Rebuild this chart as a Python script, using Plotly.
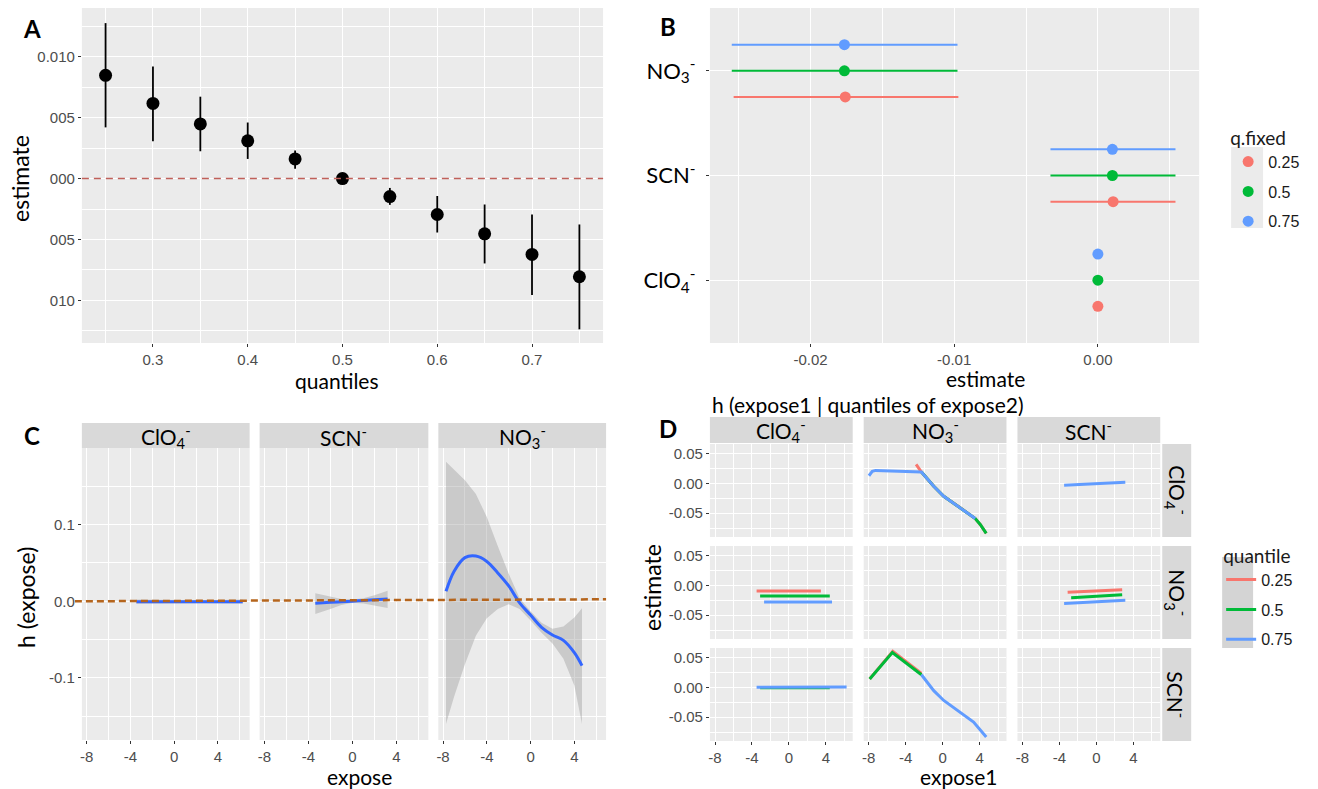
import plotly.graph_objects as go

W, H = 1318, 789
FONT = "Lato"
TFONT = "Liberation Sans"
RED, GREEN, BLUE = "#F8766D", "#00BA38", "#619CFF"
FIT_BLUE = "#3366FF"
BAND = "rgba(153,153,153,0.4)"
STRIP_BG = "#D9D9D9"

# ---------------- Panel A data ----------------
a_quantiles = [0.25, 0.30, 0.35, 0.40, 0.45, 0.50, 0.55, 0.60, 0.65, 0.70, 0.75]
a_estimate = [0.00847, 0.00617, 0.00448, 0.00310, 0.00161, 0.0, -0.00148, -0.00295, -0.00454, -0.00623, -0.00806]
a_lower = [0.00420, 0.00306, 0.00224, 0.00161, 0.00080, -0.0002, -0.00216, -0.00443, -0.00697, -0.00956, -0.01238]
a_upper = [0.01276, 0.00920, 0.00672, 0.00460, 0.00230, 0.0002, -0.00077, -0.00143, -0.00213, -0.00295, -0.00377]
a_ytickvals = [0.010, 0.005, 0.0, -0.005, -0.010]
a_yticktext = ["0.010", "005", "000", "005", "010"]

# ---------------- Panel B data ----------------
b_variables = ["ClO<sub>4</sub><sup>-</sup>", "SCN<sup>-</sup>", "NO<sub>3</sub><sup>-</sup>"]
b_qfixed = ["0.25", "0.5", "0.75"]
b_est_025 = [0.0, 0.00106, -0.01758]
b_lo_025 = [-0.0001, -0.00330, -0.02535]
b_hi_025 = [0.0001, 0.00540, -0.00971]
b_est_050 = [0.0, 0.00101, -0.01764]
b_lo_050 = [-0.0001, -0.00330, -0.02548]
b_hi_050 = [0.0001, 0.00540, -0.00977]
b_est_075 = [0.0, 0.00101, -0.01764]
b_lo_075 = [-0.0001, -0.00330, -0.02548]
b_hi_075 = [0.0001, 0.00540, -0.00977]

# ---------------- Panel C data ----------------
c_panels = ["ClO<sub>4</sub><sup>-</sup>", "SCN<sup>-</sup>", "NO<sub>3</sub><sup>-</sup>"]
c_clo4_x = [-3.45, 0.0, 3.0, 6.27]
c_clo4_fit = [-0.0005, -0.0005, -0.0005, -0.0005]
c_clo4_lo = [-0.0032, -0.0025, -0.0025, -0.0032]
c_clo4_hi = [0.0022, 0.0015, 0.0015, 0.0022]
c_scn_x = [-3.37, -2.0, -1.0, 0.0, 1.0, 2.0, 3.2]
c_scn_fit = [-0.0026, -0.0014, -0.0006, 0.0002, 0.0011, 0.0019, 0.0030]
c_scn_lo = [-0.0165, -0.0100, -0.0050, -0.0020, -0.0030, -0.0060, -0.0087]
c_scn_hi = [0.0104, 0.0060, 0.0030, 0.0022, 0.0040, 0.0080, 0.0137]
c_no3_x = [-7.73, -7.0, -6.0, -5.0, -4.0, -3.0, -2.0, -1.0, 0.0, 1.0, 2.0, 3.0, 4.0, 4.7]
c_no3_fit = [0.013, 0.039, 0.057, 0.059, 0.052, 0.037, 0.020, -0.002, -0.018, -0.034, -0.044, -0.051, -0.067, -0.084]
c_no3_lo = [-0.160, -0.125, -0.082, -0.045, -0.022, -0.010, -0.004, -0.010, -0.025, -0.041, -0.055, -0.075, -0.110, -0.160]
c_no3_hi = [0.182, 0.172, 0.158, 0.140, 0.110, 0.072, 0.036, 0.004, -0.013, -0.028, -0.036, -0.033, -0.021, -0.009]

# ---------------- Panel D data ----------------
d_labels = ["ClO<sub>4</sub><sup>-</sup>", "NO<sub>3</sub><sup>-</sup>", "SCN<sup>-</sup>"]
d_quantiles = ["0.25", "0.5", "0.75"]
# row ClO4, column NO3
d_r1c2_red_x = [-2.88, -2.3, -0.97, 0.11, 1.9, 3.52, 4.06, 4.71]
d_r1c2_red_y = [0.0317, 0.0189, -0.005, -0.0217, -0.041, -0.059, -0.069, -0.084]
d_r1c2_green_x = [-2.3, -0.97, 0.11, 1.9, 3.52, 4.06, 4.71]
d_r1c2_green_y = [0.0189, -0.005, -0.0217, -0.041, -0.059, -0.069, -0.084]
d_r1c2_blue_x = [-7.98, -7.62, -7.26, -4.57, -2.3, -2.05, -0.97, 0.11, 1.9, 3.52]
d_r1c2_blue_y = [0.0128, 0.0200, 0.0217, 0.0200, 0.0189, 0.0144, -0.005, -0.0217, -0.041, -0.059]
# row ClO4, column SCN
d_r1c3_blue_x = [-3.5, 3.12]
d_r1c3_blue_y = [-0.0033, 0.0017]
# row NO3, column ClO4
d_r2c1_red_x = [-3.5, 3.46]
d_r2c1_red_y = [-0.0094, -0.0094]
d_r2c1_green_x = [-3.12, 4.42]
d_r2c1_green_y = [-0.0178, -0.0178]
d_r2c1_blue_x = [-2.69, 4.66]
d_r2c1_blue_y = [-0.0278, -0.0278]
# row NO3, column SCN
d_r2c3_red_x = [-3.12, 2.78]
d_r2c3_red_y = [-0.0117, -0.0072]
d_r2c3_green_x = [-2.74, 2.78]
d_r2c3_green_y = [-0.0206, -0.0156]
d_r2c3_blue_x = [-3.5, 3.12]
d_r2c3_blue_y = [-0.0306, -0.0250]
# row SCN, column ClO4
d_r3c1_green_x = [-3.12, 4.42]
d_r3c1_green_y = [-0.0005, -0.0005]
d_r3c1_blue_x = [-3.5, 6.24]
d_r3c1_blue_y = [0.0000, 0.0006]
# row SCN, column NO3
d_r3c2_red_x = [-7.9, -5.4, -2.3]
d_r3c2_red_y = [0.0139, 0.0605, 0.0235]
d_r3c2_green_x = [-7.9, -5.45, -2.3]
d_r3c2_green_y = [0.0139, 0.0583, 0.0211]
d_r3c2_blue_x = [-2.3, -0.97, 0.11, 1.9, 3.34, 4.71]
d_r3c2_blue_y = [0.0211, -0.0056, -0.022, -0.0417, -0.0583, -0.0833]


def px_x(a, b):
    return [a / W, b / W]


def px_y(top, bottom):
    return [1 - bottom / H, 1 - top / H]


TICKFONT = dict(family=TFONT, size=15, color="#4D4D4D")


def axis(domain, rng, tickvals, ticktext=None, minorvals=None, labels=True, font=None, anchor=None):
    d = dict(domain=domain, range=rng, tickmode="array", tickvals=tickvals,
             showgrid=True, gridcolor="white", gridwidth=1.3, zeroline=False, showline=False,
             ticks="outside" if labels else "", ticklen=3, tickwidth=1, tickcolor="#333333",
             showticklabels=labels, tickfont=font or TICKFONT, anchor=anchor, fixedrange=True)
    if ticktext is not None:
        d["ticktext"] = ticktext
    if minorvals:
        d["minor"] = dict(tickmode="array", tickvals=minorvals, showgrid=True,
                          gridcolor="white", gridwidth=0.6, ticks="")
    return d


fig = go.Figure()

# ---------------- Panel A ----------------
fig.add_trace(go.Scatter(
    x=a_quantiles, y=a_estimate, mode="markers", xaxis="x", yaxis="y", showlegend=False,
    marker=dict(color="black", size=13),
    error_y=dict(type="data", symmetric=False,
                 array=[u - e for u, e in zip(a_upper, a_estimate)],
                 arrayminus=[e - l for e, l in zip(a_estimate, a_lower)],
                 width=0, thickness=1.8, color="black")))

# ---------------- Panel B ----------------
dodge = {"0.25": -0.25, "0.5": 0.0, "0.75": 0.25}
b_sets = [("0.25", RED, b_est_025, b_lo_025, b_hi_025),
          ("0.5", GREEN, b_est_050, b_lo_050, b_hi_050),
          ("0.75", BLUE, b_est_075, b_lo_075, b_hi_075)]
for q, col, est, lo, hi in b_sets:
    fig.add_trace(go.Scatter(
        x=est, y=[i + 1 + dodge[q] for i in range(len(b_variables))],
        mode="markers", xaxis="x2", yaxis="y2", name=q, legend="legend", legendgroup="b" + q,
        marker=dict(color=col, size=11),
        error_x=dict(type="data", symmetric=False,
                     array=[h - e for h, e in zip(hi, est)],
                     arrayminus=[e - l for e, l in zip(est, lo)],
                     width=0, thickness=2, color=col)))

# ---------------- Panel C ----------------
c_sets = [(c_clo4_x, c_clo4_fit, c_clo4_lo, c_clo4_hi, "x3", "y3"),
          (c_scn_x, c_scn_fit, c_scn_lo, c_scn_hi, "x4", "y4"),
          (c_no3_x, c_no3_fit, c_no3_lo, c_no3_hi, "x5", "y5")]
for xs, fit, lo, hi, xa, ya in c_sets:
    fig.add_trace(go.Scatter(x=list(xs) + list(xs)[::-1], y=list(hi) + list(lo)[::-1],
                             fill="toself", fillcolor=BAND, line=dict(width=0), mode="lines",
                             xaxis=xa, yaxis=ya, showlegend=False, hoverinfo="skip"))
    fig.add_trace(go.Scatter(x=xs, y=fit, mode="lines", line=dict(color=FIT_BLUE, width=3, shape="spline"),
                             xaxis=xa, yaxis=ya, showlegend=False))


# ---------------- Panel D ----------------
def dax(r, c):
    n = 6 + (r - 1) * 3 + (c - 1)
    return "x%d" % n, "y%d" % n


d_lines = [
    (1, 2, "0.25", d_r1c2_red_x, d_r1c2_red_y),
    (1, 2, "0.5", d_r1c2_green_x, d_r1c2_green_y),
    (1, 2, "0.75", d_r1c2_blue_x, d_r1c2_blue_y),
    (1, 3, "0.75", d_r1c3_blue_x, d_r1c3_blue_y),
    (2, 1, "0.25", d_r2c1_red_x, d_r2c1_red_y),
    (2, 1, "0.5", d_r2c1_green_x, d_r2c1_green_y),
    (2, 1, "0.75", d_r2c1_blue_x, d_r2c1_blue_y),
    (2, 3, "0.25", d_r2c3_red_x, d_r2c3_red_y),
    (2, 3, "0.5", d_r2c3_green_x, d_r2c3_green_y),
    (2, 3, "0.75", d_r2c3_blue_x, d_r2c3_blue_y),
    (3, 1, "0.5", d_r3c1_green_x, d_r3c1_green_y),
    (3, 1, "0.75", d_r3c1_blue_x, d_r3c1_blue_y),
    (3, 2, "0.25", d_r3c2_red_x, d_r3c2_red_y),
    (3, 2, "0.5", d_r3c2_green_x, d_r3c2_green_y),
    (3, 2, "0.75", d_r3c2_blue_x, d_r3c2_blue_y),
]
qcol = {"0.25": RED, "0.5": GREEN, "0.75": BLUE}
for q in d_quantiles:
    first = True
    for r, c, qq, xs, ys in d_lines:
        if qq != q:
            continue
        xa, ya = dax(r, c)
        fig.add_trace(go.Scatter(x=xs, y=ys, mode="lines", line=dict(color=qcol[q], width=3),
                                 xaxis=xa, yaxis=ya, name=q, legend="legend2",
                                 legendgroup="d" + q, showlegend=first))
        first = False

# empty facets still need their panel drawn
for r, c in [(1, 1), (2, 2), (3, 3)]:
    xa, ya = dax(r, c)
    fig.add_trace(go.Scatter(x=[], y=[], mode="lines", xaxis=xa, yaxis=ya, showlegend=False))

# ---------------- Axes ----------------
layout_axes = {}
layout_axes["xaxis"] = axis(px_x(80, 602), [0.225, 0.775], [0.3, 0.4, 0.5, 0.6, 0.7],
                            ["0.3", "0.4", "0.5", "0.6", "0.7"],
                            [0.25, 0.35, 0.45, 0.55, 0.65, 0.75], anchor="y")
layout_axes["yaxis"] = axis(px_y(8, 343), [-0.0135, 0.014], a_ytickvals, a_yticktext,
                            [-0.0125, -0.0075, -0.0025, 0.0025, 0.0075, 0.0125], anchor="x")
layout_axes["xaxis2"] = axis(px_x(709, 1199), [-0.0270, 0.00705], [-0.02, -0.01, 0.0],
                             ["-0.02", "-0.01", "0.00"], [-0.025, -0.015, -0.005, 0.005], anchor="y2")
yb = axis(px_y(8, 343), [0.4, 3.6], [1, 2, 3], b_variables, None,
          font=dict(family=FONT, size=22, color="black"), anchor="x2")
yb["ticklabelstandoff"] = 6
layout_axes["yaxis2"] = yb

c_cols = [(80, 248), (258, 427), (437, 605)]
for i, (a, b) in enumerate(c_cols):
    n = 3 + i
    layout_axes["xaxis%d" % n] = axis(px_x(a, b), [-8.43, 6.9], [-8, -4, 0, 4], ["-8", "-4", "0", "4"],
                                      [-6, -2, 2, 6], anchor="y%d" % n)
    layout_axes["yaxis%d" % n] = axis(px_y(448, 740), [-0.181, 0.2], [-0.1, 0.0, 0.1], ["-0.1", "0.0", "0.1"],
                                      [-0.15, -0.05, 0.05, 0.15], labels=(i == 0), anchor="x%d" % n)

d_cols = [(709, 852), (863, 1006), (1017, 1160)]
d_rows = [(444, 537), (546, 639), (648, 741)]
for r in range(1, 4):
    for c in range(1, 4):
        n = 6 + (r - 1) * 3 + (c - 1)
        a, b = d_cols[c - 1]
        t, btm = d_rows[r - 1]
        layout_axes["xaxis%d" % n] = axis(px_x(a, b), [-8.55, 6.9], [-8, -4, 0, 4], ["-8", "-4", "0", "4"],
                                          [-6, -2, 2, 6], labels=(r == 3), anchor="y%d" % n)
        layout_axes["yaxis%d" % n] = axis(px_y(t, btm), [-0.09, 0.066], [-0.05, 0.0, 0.05],
                                          ["-0.05", "0.00", "0.05"], [-0.075, -0.025, 0.025],
                                          labels=(c == 1), anchor="x%d" % n)

# ---------------- Shapes ----------------
shapes = []
# legend key backgrounds
shapes.append(dict(type="rect", xref="paper", yref="paper", x0=1231 / W, x1=1263 / W,
                   y0=1 - 228 / H, y1=1 - 147 / H, fillcolor="#EBEBEB", line=dict(width=0), layer="below"))
shapes.append(dict(type="rect", xref="paper", yref="paper", x0=1222 / W, x1=1253 / W,
                   y0=1 - 648 / H, y1=1 - 557 / H, fillcolor="#D4D4D4", line=dict(width=0), layer="below"))
# strips C
for a, b in c_cols:
    shapes.append(dict(type="rect", xref="paper", yref="paper", x0=a / W, x1=b / W,
                       y0=1 - 448 / H, y1=1 - 423 / H, fillcolor=STRIP_BG, line=dict(width=0)))
# strips D top
for a, b in d_cols:
    shapes.append(dict(type="rect", xref="paper", yref="paper", x0=a / W, x1=b / W,
                       y0=1 - 443 / H, y1=1 - 417 / H, fillcolor=STRIP_BG, line=dict(width=0)))
# strips D right
for t, btm in d_rows:
    shapes.append(dict(type="rect", xref="paper", yref="paper", x0=1162 / W, x1=1191 / W,
                       y0=1 - btm / H, y1=1 - t / H, fillcolor=STRIP_BG, line=dict(width=0)))
# reference line A
shapes.append(dict(type="line", xref="x domain", yref="y", x0=0, x1=1, y0=0, y1=0,
                   line=dict(color="#C0605A", width=1.6, dash="7px,5px"), layer="above"))
# reference line C across panels
shapes.append(dict(type="line", xref="paper", yref="y3", x0=73 / W, x1=605 / W, y0=0.0, y1=0.0026,
                   line=dict(color="#B5651D", width=2.5, dash="7px,4px"), layer="above"))

# ---------------- Annotations ----------------
ann = []


def text(x, y, s, size=22, angle=0, bold=False, xanchor="center", color="black"):
    ann.append(dict(x=x / W, y=1 - y / H, xref="paper", yref="paper", text=("<b>%s</b>" % s) if bold else s,
                    showarrow=False, textangle=angle, xanchor=xanchor, yanchor="middle",
                    font=dict(family=FONT, size=size, color=color)))


text(30, 28, "A", 24, bold=True)
text(667, 26, "B", 24, bold=True)
text(30, 435, "C", 24, bold=True)
text(667, 428, "D", 24, bold=True)
text(18, 178, "estimate", 23, angle=-90)
text(336, 380, "quantiles", 21)
text(985, 378, "estimate", 21)
text(709, 404, "h (expose1 | quantiles of expose2)", 21, xanchor="left")
text(24, 597, "h (expose)", 23, angle=-90)
text(358, 776, "expose", 21)
text(651, 588, "estimate", 23, angle=-90)
text(958, 776, "expose1", 21)
for (a, b), lab in zip(c_cols, c_panels):
    text((a + b) / 2, 436, lab, 21)
for (a, b), lab in zip(d_cols, d_labels):
    text((a + b) / 2, 430, lab, 21)
for (t, btm), lab in zip(d_rows, d_labels):
    text(1177, (t + btm) / 2, lab, 21, angle=90)

fig.update_layout(
    width=W, height=H, margin=dict(l=0, r=0, t=0, b=0),
    paper_bgcolor="white", plot_bgcolor="#EBEBEB",
    font=dict(family=FONT),
    shapes=shapes, annotations=ann,
    legend=dict(title=dict(text="q.fixed", font=dict(family=FONT, size=19, color="#1a1a1a")),
                x=1228 / W, y=1 - 120 / H, xanchor="left", yanchor="top",
                bgcolor="rgba(0,0,0,0)", font=dict(family=TFONT, size=16, color="#1a1a1a"),
                tracegroupgap=6, itemclick=False, itemdoubleclick=False),
    legend2=dict(title=dict(text="quantile", font=dict(family=FONT, size=19, color="#1a1a1a")),
                 x=1221 / W, y=1 - 538 / H, xanchor="left", yanchor="top",
                 bgcolor="rgba(0,0,0,0)", font=dict(family=TFONT, size=16, color="#1a1a1a"),
                 tracegroupgap=6, itemclick=False, itemdoubleclick=False),
    **layout_axes,
)

fig.write_html("out.html", config={"displayModeBar": False},
               post_script="document.body.style.margin='0';document.body.style.overflow='hidden';")
